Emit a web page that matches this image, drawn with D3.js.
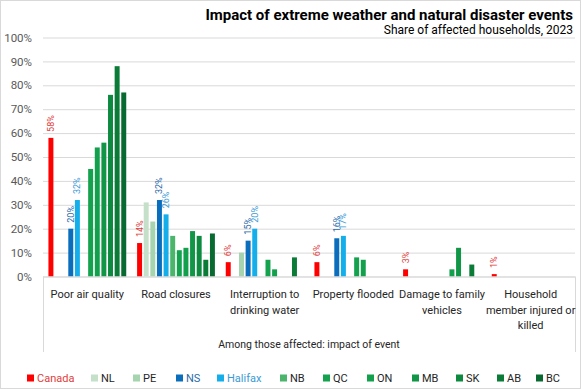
<!DOCTYPE html>
<html>
<head>
<meta charset="utf-8">
<script src="https://cdn.jsdelivr.net/npm/d3@7"></script>
<style>
  body { margin: 0; background: #fff; }
  text { font-family: Roboto, "Noto Sans", sans-serif; }
</style>
</head>
<body>
<svg id="chart" width="581" height="389"></svg>
<script>
const categories = ["Poor air quality", "Road closures", "Interruption to drinking water",
  "Property flooded", "Damage to family vehicles", "Household member injured or killed"];
const categoryLines = [["Poor air quality"], ["Road closures"], ["Interruption to", "drinking water"],
  ["Property flooded"], ["Damage to family", "vehicles"], ["Household", "member injured or", "killed"]];

const seriesNames = ["Canada", "NL", "PE", "NS", "Halifax", "NB", "QC", "ON", "MB", "SK", "AB", "BC"];
const seriesColors = ["#ff0000", "#c5e0c9", "#a6d4ae", "#0a6ebd", "#14aeea", "#4bb56c",
  "#14a24e", "#12a04c", "#109646", "#0d8a40", "#0b7b38", "#086a30"];
const labelColors = {Canada: "#e0403c", NS: "#2a6aaa", Halifax: "#3a9ad6"};

// values per category, in series order (null = no bar)
const canada  = [58, 14, 6, 6, 3, 1];
const nl      = [null, 31, null, null, null, null];
const pe      = [null, 23, 10, null, null, null];
const ns      = [20, 32, 15, 16, null, null];
const halifax = [32, 26, 20, 17, null, null];
const nb      = [null, 17, null, null, null, null];
const qc      = [45, 11, 7, 8, null, null];
const on      = [54, 12, 3, 7, 3, null];
const mb      = [56, 19, null, null, 12, null];
const sk      = [76, 17, null, null, null, null];
const ab      = [88, 7, 8, null, 5, null];
const bc      = [77, 18, null, null, null, null];
const seriesValues = [canada, nl, pe, ns, halifax, nb, qc, on, mb, sk, ab, bc];
const labelledSeries = ["Canada", "NS", "Halifax"];

const yTicks = [0, 10, 20, 30, 40, 50, 60, 70, 80, 90, 100];

const svg = d3.select("#chart");
const width = 581, height = 389;
const plotLeft = 43, plotRight = 575, plotTop = 37.5, plotBottom = 276.5;

svg.append("rect")
  .attr("x", 0.5).attr("y", 0.5)
  .attr("width", width - 1).attr("height", height - 1)
  .attr("fill", "#fff").attr("stroke", "#d9d9d9");

const y = d3.scaleLinear().domain([0, 100]).range([plotBottom, plotTop]);
const x0 = d3.scaleBand().domain(categories).range([plotLeft, plotRight]);
const x1 = d3.scaleBand().domain(seriesNames).range([0, x0.bandwidth()])
  .paddingInner(0.25).paddingOuter(0.82);
const color = d3.scaleOrdinal().domain(seriesNames).range(seriesColors);

// gridlines + y labels
const yAxis = svg.append("g")
  .attr("transform", `translate(${plotLeft},0)`)
  .call(d3.axisLeft(y).tickValues(yTicks).tickSize(-(plotRight - plotLeft)).tickFormat(d => d + "%").tickPadding(11));
yAxis.select(".domain").remove();
yAxis.selectAll(".tick line").attr("stroke", "#d9d9d9");
yAxis.selectAll(".tick text").attr("fill", "#595959").style("font-size", "11.5px");

// bars
const rows = [];
seriesNames.forEach((s, si) => {
  categories.forEach((c, ci) => {
    const v = seriesValues[si][ci];
    if (v !== null) rows.push({series: s, category: c, value: v});
  });
});

svg.append("g").selectAll("rect")
  .data(rows)
  .join("rect")
  .attr("x", d => x0(d.category) + x1(d.series))
  .attr("y", d => y(d.value))
  .attr("width", x1.bandwidth())
  .attr("height", d => y(0) - y(d.value))
  .attr("fill", d => color(d.series));

// data labels
svg.append("g").selectAll("text")
  .data(rows.filter(d => labelledSeries.includes(d.series)))
  .join("text")
  .attr("transform", d => `translate(${x0(d.category) + x1(d.series) + x1.bandwidth() / 2 + 3},${y(d.value) - 6}) rotate(-90)`)
  .attr("fill", d => labelColors[d.series])
  .style("font-size", "9px")
  .text(d => d.value + "%");

// category axis
svg.append("line").attr("x1", plotLeft).attr("x2", plotRight).attr("y1", plotBottom + 0.5).attr("y2", plotBottom + 0.5)
  .attr("stroke", "#d9d9d9");
[plotLeft, plotRight].forEach(px => {
  svg.append("line").attr("x1", px + 0.5).attr("x2", px + 0.5).attr("y1", plotBottom).attr("y2", 352)
    .attr("stroke", "#d9d9d9");
});

const catLabels = svg.append("g").selectAll("text")
  .data(categories)
  .join("text")
  .attr("x", d => x0(d) + x0.bandwidth() / 2)
  .attr("y", 298)
  .attr("text-anchor", "middle")
  .attr("fill", "#262626")
  .style("font-size", "11px");
catLabels.selectAll("tspan")
  .data((d, i) => categoryLines[i])
  .join("tspan")
  .attr("x", function() { return d3.select(this.parentNode).attr("x"); })
  .attr("dy", (d, i) => i === 0 ? 0 : 15.5)
  .text(d => d);

svg.append("text")
  .attr("x", (plotLeft + plotRight) / 2).attr("y", 348)
  .attr("text-anchor", "middle").attr("fill", "#262626")
  .style("font-size", "10.5px")
  .text("Among those affected: impact of event");

// title
svg.append("text")
  .attr("x", 573).attr("y", 20)
  .attr("text-anchor", "end").attr("fill", "#000")
  .style("font-family", "'Liberation Sans Narrow', Roboto, sans-serif")
  .style("font-size", "15px").style("font-weight", "bold")
  .text("Impact of extreme weather and natural disaster events");
svg.append("text")
  .attr("x", 573).attr("y", 34)
  .attr("text-anchor", "end").attr("fill", "#000")
  .style("font-size", "12px")
  .text("Share of affected households, 2023");

// legend
const legendX = [27, 91, 133, 176, 217, 280, 323, 367, 412, 456, 497, 536];
const legend = svg.append("g").selectAll("g")
  .data(seriesNames)
  .join("g")
  .attr("transform", (d, i) => `translate(${legendX[i]},378)`);
legend.append("rect").attr("x", 0).attr("y", -3.5).attr("width", 7).attr("height", 7)
  .attr("fill", d => color(d));
legend.append("text").attr("x", 10).attr("y", 4)
  .attr("fill", d => labelColors[d] || "#262626")
  .style("font-size", "11px")
  .text(d => d);
</script>
</body>
</html>
